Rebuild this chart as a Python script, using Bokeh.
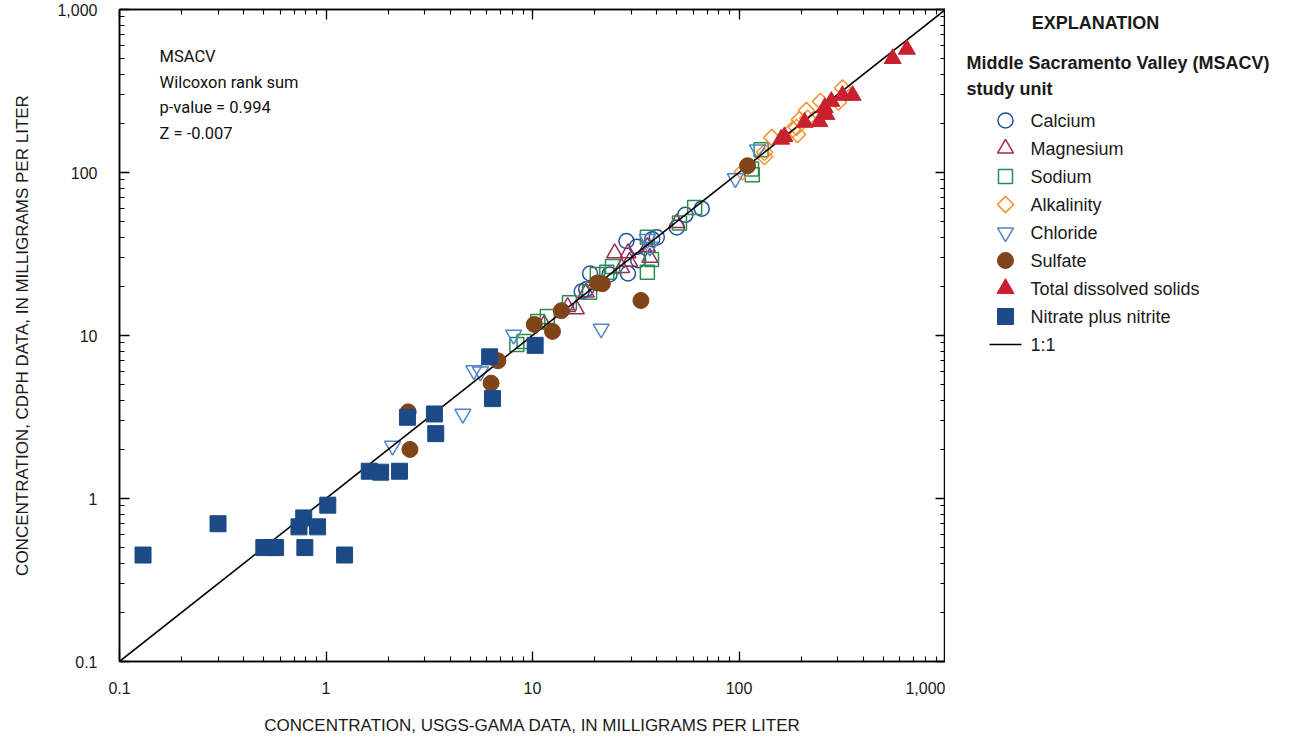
import numpy as np
from bokeh.plotting import figure
from bokeh.layouts import row
from bokeh.models import LogAxis, LogTicker, CustomJSTickFormatter, Label, Range1d
from bokeh.core.properties import value
from bokeh.embed import file_html
from bokeh.resources import INLINE

# ---- data (USGS-GAMA value, CDPH value), milligrams per liter ----
calcium_x = [17.3, 18.2, 19.0, 23.6, 28.5, 29.0, 32.0, 32.5, 38.0, 40.0, 50.0, 55.0, 66.0]
calcium_y = [18.6, 19.2, 24.0, 23.7, 38.0, 24.0, 35.0, 29.0, 39.0, 40.0, 46.0, 55.0, 60.0]

magnesium_x = [11.4, 14.8, 16.3, 18.2, 25.0, 27.0, 29.0, 29.5, 36.0, 37.0, 50.0]
magnesium_y = [11.7, 15.0, 14.5, 18.4, 32.0, 26.0, 32.0, 28.4, 35.0, 30.0, 49.0]

sodium_x = [8.4, 9.1, 10.6, 11.8, 15.1, 18.9, 20.6, 22.9, 24.4, 36.0, 37.7, 36.0, 51.5, 61.0, 115.0, 116.0, 128.0]
sodium_y = [8.8, 9.2, 12.2, 13.1, 15.9, 18.4, 23.7, 24.4, 26.5, 24.4, 29.3, 40.0, 49.0, 61.0, 105.0, 97.0, 138.0]

alkalinity_x = [104, 133, 133, 144, 182, 190, 192, 196, 212, 215, 248, 303, 317]
alkalinity_y = [101, 125, 133, 164, 184, 189, 171, 211, 240, 215, 273, 270, 330]

chloride_x = [2.1, 4.6, 5.2, 5.6, 8.1, 21.5, 36.0, 37.0, 96.0, 123.0]
chloride_y = [2.1, 3.3, 6.1, 6.0, 10.1, 11.0, 39.0, 35.0, 92.0, 138.0]

sulfate_x = [2.5, 2.55, 6.3, 6.8, 10.2, 12.5, 13.8, 20.6, 21.8, 33.5, 110.0]
sulfate_y = [3.4, 2.0, 5.1, 7.0, 11.7, 10.6, 14.2, 21.0, 20.8, 16.4, 110.0]

tds_x = [160, 166, 208, 245, 265, 260, 280, 317, 355, 555, 650]
tds_y = [160, 166, 203, 205, 227, 250, 273, 297, 297, 500, 570]

nitrate_x = [0.13, 0.30, 0.50, 0.55, 0.57, 0.74, 0.78, 0.79, 0.91, 1.02, 1.23, 1.62, 1.84,
             2.27, 2.48, 3.35, 3.4, 6.2, 6.4, 10.3]
nitrate_y = [0.45, 0.70, 0.50, 0.50, 0.50, 0.67, 0.76, 0.50, 0.67, 0.91, 0.45, 1.47, 1.45,
             1.47, 3.15, 3.3, 2.5, 7.4, 4.1, 8.7]

one_to_one = [0.1, 1000]

annotation_lines = ["MSACV", "Wilcoxon rank sum", "p-value = 0.994", "Z = -0.007"]
legend_labels = ["Calcium", "Magnesium", "Sodium", "Alkalinity", "Chloride", "Sulfate",
                 "Total dissolved solids", "Nitrate plus nitrite", "1:1"]

# ---- main figure ----
p = figure(x_axis_type="log", y_axis_type="log",
           x_range=Range1d(0.1, 1000), y_range=Range1d(0.1, 1000),
           frame_width=826, frame_height=652,
           min_border_left=119, min_border_right=0, min_border_top=9, min_border_bottom=79,
           output_backend="svg", toolbar_location=None, background_fill_color="white",
           border_fill_color="white")
p.xgrid.visible = False
p.ygrid.visible = False
p.outline_line_color = "black"
p.outline_line_width = 1.5

fmt = CustomJSTickFormatter(code="""
if (tick >= 1000) { return tick.toLocaleString('en-US'); }
return String(+tick.toPrecision(3));
""")

def style_axis(ax, labels=True):
    ax.ticker = LogTicker(mantissas=[1], desired_num_ticks=5, num_minor_ticks=10)
    ax.axis_line_color = "black"
    ax.axis_line_width = 1.5
    ax.major_tick_in = 10
    ax.major_tick_out = 0
    ax.minor_tick_in = 5
    ax.minor_tick_out = 0
    ax.major_tick_line_color = "black"
    ax.minor_tick_line_color = "black"
    ax.major_tick_line_width = 1.3
    ax.minor_tick_line_width = 1.1
    if labels:
        ax.formatter = fmt
        ax.major_label_text_font = "Liberation Sans"
        ax.major_label_text_font_size = "16px"
        ax.major_label_text_color = "#1a1a1a"
        ax.axis_label_text_font = "Liberation Sans"
        ax.axis_label_text_font_size = "17px"
        ax.axis_label_text_font_style = "normal"
        ax.axis_label_text_color = "#1a1a1a"
    else:
        ax.major_label_text_font_size = "1px"
        ax.major_label_text_color = None
        ax.major_label_standoff = 0

xa = p.xaxis[0]
ya = p.yaxis[0]
style_axis(xa)
style_axis(ya)
xa.axis_label = "CONCENTRATION, USGS-GAMA DATA, IN MILLIGRAMS PER LITER"
ya.axis_label = "CONCENTRATION, CDPH DATA, IN MILLIGRAMS PER LITER"
xa.major_label_standoff = 20
xa.axis_label_standoff = 19
ya.major_label_standoff = 22
ya.axis_label_standoff = 22

top = LogAxis()
right = LogAxis()
style_axis(top, labels=False)
style_axis(right, labels=False)
p.add_layout(top, "above")
p.add_layout(right, "right")

styles = {
    "Calcium": dict(marker="circle", size=15, fill_color=None, line_color="#24509a", line_width=1.5),
    "Magnesium": dict(marker="triangle", size=16, fill_color=None, line_color="#9e2a5c", line_width=1.5),
    "Sodium": dict(marker="square", size=14, fill_color=None, line_color="#2a8c4e", line_width=1.5),
    "Alkalinity": dict(marker="square", angle=np.pi / 4, size=11.5, fill_color=None,
                       line_color="#f7902c", line_width=1.5),
    "Chloride": dict(marker="inverted_triangle", size=16, fill_color=None, line_color="#4f86c6",
                     line_width=1.5),
    "Total dissolved solids": dict(marker="triangle", size=17, fill_color="#c8202f",
                                   line_color="#c8202f", line_width=1),
    "Sulfate": dict(marker="circle", size=16, fill_color="#7f4519", line_color="#7f4519", line_width=1),
    "Nitrate plus nitrite": dict(marker="square", size=16, fill_color="#1b4a87",
                                 line_color="#1b4a87", line_width=1),
}
series = {
    "Calcium": (calcium_x, calcium_y),
    "Magnesium": (magnesium_x, magnesium_y),
    "Sodium": (sodium_x, sodium_y),
    "Alkalinity": (alkalinity_x, alkalinity_y),
    "Chloride": (chloride_x, chloride_y),
    "Total dissolved solids": (tds_x, tds_y),
    "Sulfate": (sulfate_x, sulfate_y),
    "Nitrate plus nitrite": (nitrate_x, nitrate_y),
}

for name in ["Calcium", "Magnesium", "Sodium", "Alkalinity", "Chloride"]:
    xs, ys = series[name]
    p.scatter(xs, ys, **styles[name])
p.line(one_to_one, one_to_one, line_color="black", line_width=1.6)
for name in ["Total dissolved solids", "Sulfate", "Nitrate plus nitrite"]:
    xs, ys = series[name]
    p.scatter(xs, ys, **styles[name])

for i, t in enumerate(annotation_lines):
    p.add_layout(Label(x=40, y=605 - i * 25.5, x_units="screen", y_units="screen", text=t,
                       text_font="Roboto", text_font_size="16.5px",
                       text_color="#111111", text_baseline="middle"))

# ---- explanation panel (pixel coordinates, origin bottom-left) ----
EW, EH = 340, 725
PANEL_TOP = 9   # page row where this panel's frame begins
q = figure(frame_width=EW, frame_height=EH, x_range=Range1d(0, EW), y_range=Range1d(0, EH),
           x_axis_location=None, y_axis_location=None,
           min_border=0, output_backend="svg", toolbar_location=None,
           background_fill_color="white", border_fill_color="white")
q.grid.visible = False
q.outline_line_color = None

def ty(page_y):
    # convert a page row (from the top) into the panel's bottom-up pixel coordinate
    return EH - (page_y - PANEL_TOP)

q.add_layout(Label(x=150, y=ty(22), text="EXPLANATION",
                   text_font="Liberation Sans", text_font_size="18px", text_font_style="bold",
                   text_color="#1a1a1a", text_baseline="middle", text_align="center"))
q.add_layout(Label(x=21, y=ty(62), text="Middle Sacramento Valley (MSACV)",
                   text_font="Liberation Sans", text_font_size="18px", text_font_style="bold",
                   text_color="#1a1a1a", text_baseline="middle"))
q.add_layout(Label(x=21, y=ty(88), text="study unit",
                   text_font="Liberation Sans", text_font_size="18px", text_font_style="bold",
                   text_color="#1a1a1a", text_baseline="middle"))

ROW0, PITCH, MX, TX = 120, 28, 60, 85
row_y = [ty(ROW0 + i * PITCH) for i in range(len(legend_labels))]
for i, name in enumerate(legend_labels):
    if name == "1:1":
        q.line([MX - 16, MX + 16], [row_y[i], row_y[i]], line_color="black", line_width=1.6)
    else:
        q.scatter([MX], [row_y[i]], **styles[name])
q.text(x=[TX] * len(legend_labels), y=row_y, text=legend_labels,
       text_font=value("Liberation Sans"), text_font_size="18px", text_color="#1a1a1a",
       text_baseline="middle")

layout = row(p, q)
open("out.html", "w").write(file_html(layout, INLINE))
